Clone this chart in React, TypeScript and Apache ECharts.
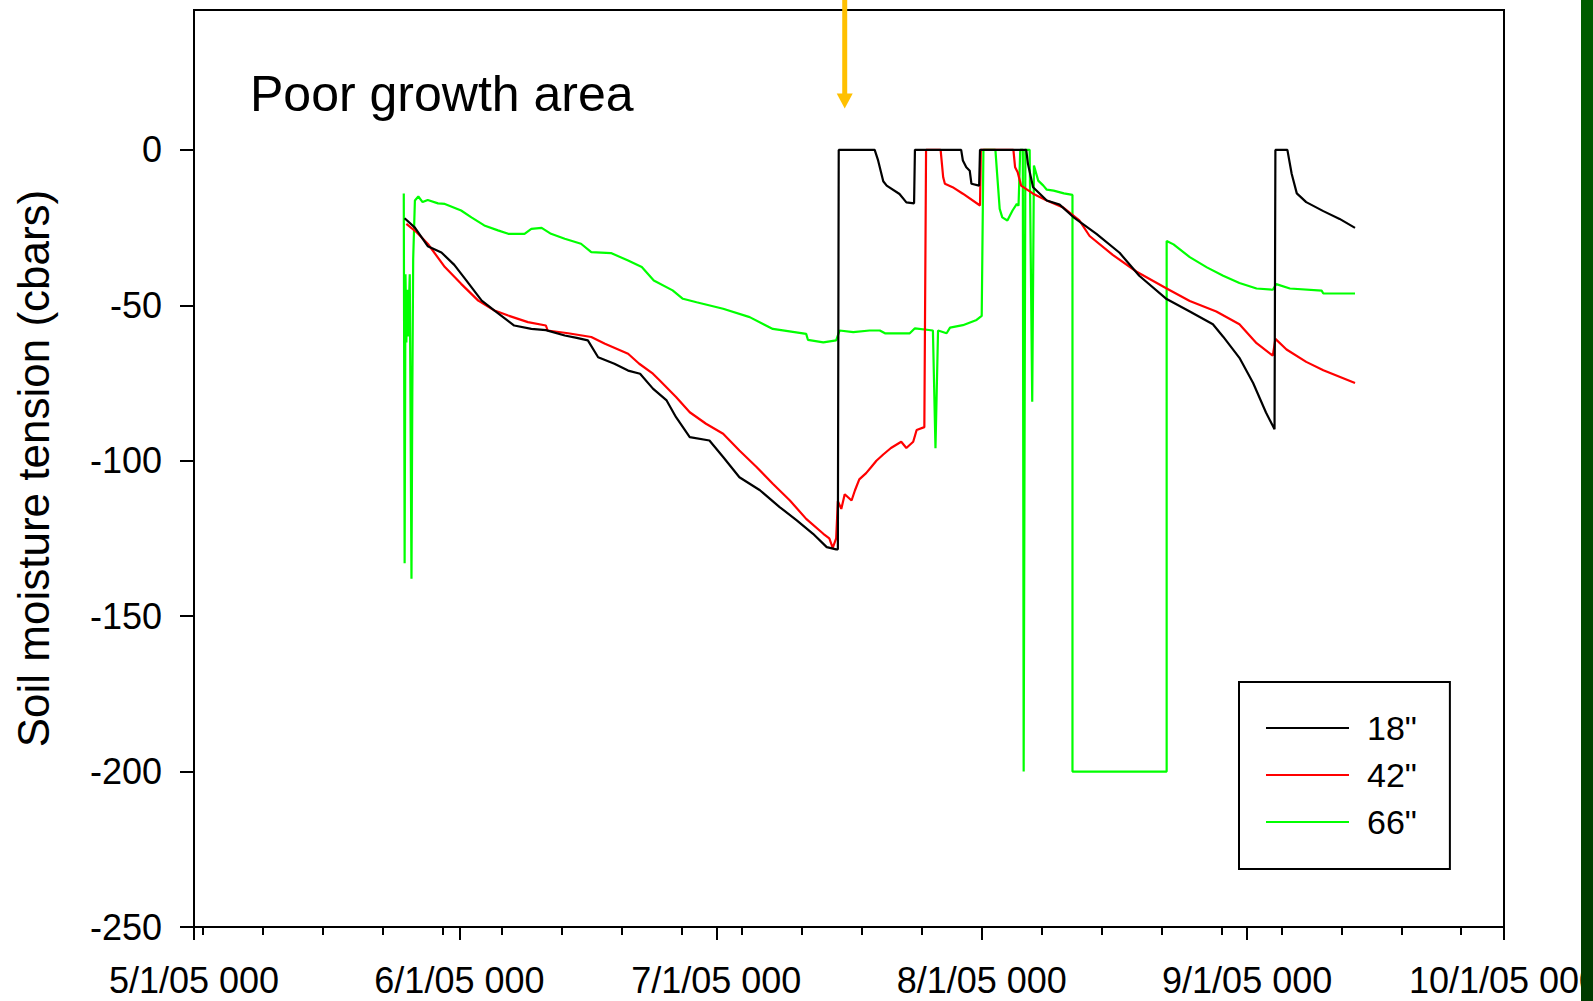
import React, { useEffect, useRef } from 'react';
import * as echarts from 'echarts';

const FONT = '"Liberation Sans", Arial, Helvetica, sans-serif';

// x values are days since 5/1/05 00:00
const MONTH_TICK_DAYS = [0, 31, 61, 92, 123, 153];
const MONTH_LABELS = ['5/1/05 000', '6/1/05 000', '7/1/05 000', '8/1/05 000', '9/1/05 000', '10/1/05 000'];
const WEEK_TICK_DAYS = [1, 8, 15, 22, 29, 36, 43, 50, 57, 64, 71, 78, 85, 92, 99, 106, 113, 120, 127, 134, 141, 148];
const Y_TICKS = [-250, -200, -150, -100, -50, 0];

const SERIES_NAMES = ['18"', '42"', '66"'];
const SERIES_COLORS = ['#000000', '#ff0000', '#00ff00'];

const depth18: [number, number][] = [
  [24.6, -22], [25.8, -25], [27.3, -31], [28.9, -33], [30.4, -37], [31.8, -42], [33.6, -48.5], [35.1, -51.7],
  [37.4, -56.5], [39.4, -57.6], [41.1, -58], [43.3, -59.7], [44.7, -60.5], [46.0, -61.3], [47.2, -66.7],
  [49.1, -68.8], [50.7, -71], [52.1, -72], [53.6, -76.8], [55.2, -80.6], [56.3, -86], [57.9, -92.4],
  [60.2, -93.5], [61.8, -98.8], [63.7, -105.3], [66.1, -109.5], [68.4, -114.9], [70.4, -119.2],
  [72.3, -123.5], [73.9, -127.8], [75.0, -128.5], [75.2, -128.5], [75.3, 0], [79.5, 0], [79.9, -3.4],
  [80.5, -10.1], [80.9, -11.5], [82.4, -14.2], [83.2, -16.9], [84.1, -17.2], [84.2, 0], [89.6, 0],
  [89.8, -3.4], [90.2, -5.6], [90.6, -6.7], [90.8, -10.9], [91.7, -11.5], [91.8, 0], [97.2, 0],
  [97.4, -4.5], [98.0, -12], [99.6, -16.3], [101.1, -17.6], [102.7, -21.6], [105.4, -27], [108.1, -33.1],
  [110.4, -40.5], [113.6, -48], [116.3, -52], [119.0, -56.1], [120.2, -60.1], [122.1, -66.9],
  [123.7, -75], [125.2, -84.5], [126.2, -89.9], [126.3, 0], [127.7, 0], [128.2, -7.7], [128.8, -14],
  [129.9, -16.8], [131.9, -19.7], [133.8, -22.2], [135.6, -25.1],
];

const depth42: [number, number][] = [
  [24.8, -23.8], [26.0, -26.5], [27.3, -30.2], [29.3, -37.7], [31.2, -43.1], [33.2, -48.5], [35.1, -51.7],
  [36.7, -53.3], [39.0, -55.4], [41.1, -56.5], [41.3, -58.1], [43.7, -59], [46.4, -60.2], [48.0, -62.4],
  [50.7, -65.6], [52.0, -68.8], [53.6, -72], [54.4, -74.2], [56.3, -79.5], [57.9, -84.4], [59.8, -88.1],
  [61.8, -91.3], [63.7, -96.7], [65.7, -102], [67.6, -107.4], [69.6, -112.8], [71.5, -118.7],
  [73.5, -123.5], [74.2, -125], [74.6, -128], [75.0, -125], [75.2, -113], [75.6, -115.5], [76.0, -110.8],
  [76.8, -112.8], [77.2, -109.5], [77.7, -106], [78.5, -104], [79.1, -102], [79.7, -100], [80.5, -98],
  [81.4, -95.9], [82.6, -93.9], [83.2, -95.9], [84.0, -93.9], [84.4, -90.1], [85.3, -89.2], [85.5, 0],
  [87.2, 0], [87.5, -8.8], [87.7, -10.9], [88.6, -12], [89.8, -14.1], [91.8, -17.9], [91.9, 0], [95.7, 0],
  [95.9, -5.6], [96.2, -7.2], [96.6, -11.5], [98.0, -14.1], [99.6, -16.3], [101.5, -18.5], [103.4, -22.7],
  [104.6, -27.7], [107.3, -33.8], [110.1, -39.2], [113.6, -44.6], [116.3, -48.6], [119.4, -52],
  [122.1, -56.1], [124.1, -62.2], [126.0, -66.2], [126.3, -60.8], [127.6, -64.2], [129.9, -68.2],
  [131.9, -70.9], [135.6, -75],
];

const depth66: [number, number][] = [
  [24.5, -14], [24.6, -133], [24.7, -40], [24.8, -62], [24.9, -45], [25.0, -60], [25.2, -40], [25.4, -138],
  [25.5, -78], [25.6, -35], [25.8, -16.3], [26.2, -15], [26.7, -16.8], [27.3, -16.1], [28.5, -17.2],
  [29.3, -17.4], [31.2, -19.5], [32.4, -21.7], [33.9, -24.3], [35.5, -25.9], [36.7, -27], [38.6, -27],
  [39.4, -25.4], [40.6, -25.1], [41.7, -27], [43.3, -28.6], [45.2, -30.2], [46.4, -32.9], [48.7, -33.2],
  [50.7, -35.6], [52.3, -37.7], [53.7, -42], [55.9, -45.2], [57.1, -47.9], [58.7, -49], [61.8, -51.1],
  [64.9, -53.8], [67.6, -57.6], [71.5, -59.2], [71.7, -61.1], [73.5, -61.9], [75.0, -61.3], [75.4, -58.1],
  [77.0, -58.6], [78.9, -58.1], [80.1, -58.1], [80.7, -59], [83.6, -59], [84.2, -57.4], [86.3, -58.1],
  [86.6, -96], [86.9, -58.1], [87.9, -59], [88.3, -57.2], [89.8, -56.4], [91.4, -54.7], [92.0, -53.4],
  [92.2, 0], [93.6, 0], [93.8, -7.7], [94.1, -19], [94.4, -21.7], [95.0, -22.7], [95.6, -19.5],
  [96.1, -17.4], [96.3, -18], [96.5, 0], [96.8, 0], [96.9, -200], [97.1, 0], [97.6, 0], [97.9, -81],
  [98.1, -5], [98.6, -9.9], [99.2, -11.5], [99.6, -12.8], [100.4, -13.1], [101.6, -14], [102.6, -14.5],
  [102.6, -200], [113.6, -200], [113.6, -29.3], [114.4, -30.4], [116.3, -34.5], [118.3, -37.8],
  [120.2, -40.5], [122.1, -42.8], [124.1, -44.6], [126.0, -45], [126.4, -43.2], [128.0, -44.6],
  [131.7, -45.3], [131.9, -46.2], [135.6, -46.2],
];

const SERIES_DATA = [depth18, depth42, depth66];

const TITLE_TEXT = 'Poor growth area';
const Y_NAME = 'Soil moisture tension (cbars)';
const ARROW_DAY = 76;
const ARROW_TIP_VALUE = 13.3;

export default function App() {
  const ref = useRef<HTMLDivElement>(null);

  useEffect(() => {
    if (!ref.current) return;
    const chart = echarts.init(ref.current, null, { renderer: 'svg' });
    const black = '#000';

    const series = [2, 1, 0].map((i) => ({
      name: SERIES_NAMES[i],
      type: 'line',
      data: SERIES_DATA[i],
      xAxisIndex: 0,
      yAxisIndex: 0,
      showSymbol: false,
      symbol: 'none',
      lineStyle: { width: 2.2, color: SERIES_COLORS[i] },
      itemStyle: { color: SERIES_COLORS[i] },
      clip: true,
    }));

    chart.setOption({
      animation: false,
      backgroundColor: '#ffffff',
      title: {
        text: TITLE_TEXT,
        left: 250,
        top: 69,
        padding: 0,
        textStyle: { fontSize: 50, fontWeight: 'normal', fontFamily: FONT, color: black },
      },
      legend: {
        orient: 'vertical',
        left: 1239,
        top: 682,
        padding: [26, 33, 27, 26],
        borderColor: black,
        borderWidth: 2,
        backgroundColor: '#fff',
        itemWidth: 83,
        itemHeight: 2,
        itemGap: 7,
        data: SERIES_NAMES,
        lineStyle: { width: 2 },
        textStyle: { fontSize: 34, fontFamily: FONT, color: black, lineHeight: 40, padding: [0, 0, 0, 13] },
      },
      grid: {
        left: 194,
        top: 10,
        width: 1310,
        height: 917,
        show: true,
        borderColor: black,
        borderWidth: 2,
        backgroundColor: 'transparent',
        containLabel: false,
        outerBoundsMode: 'none',
      },
      xAxis: [
        {
          type: 'value',
          min: 0,
          max: 153,
          position: 'bottom',
          axisLine: { show: true, onZero: false, lineStyle: { color: black, width: 2 } },
          axisTick: { show: true, length: 13, customValues: MONTH_TICK_DAYS, lineStyle: { color: black, width: 2 } },
          axisLabel: {
            customValues: MONTH_TICK_DAYS,
            formatter: (v: number) => {
              const k = MONTH_TICK_DAYS.indexOf(Math.round(v));
              return k >= 0 ? MONTH_LABELS[k] : '';
            },
            fontSize: 36,
            fontFamily: FONT,
            color: black,
            margin: 35,
            hideOverlap: false,
          },
          splitLine: { show: false },
        },
        {
          type: 'value',
          min: 0,
          max: 153,
          position: 'bottom',
          offset: 0,
          axisLine: { show: false, onZero: false },
          axisTick: { show: true, length: 8, customValues: WEEK_TICK_DAYS, lineStyle: { color: black, width: 2 } },
          axisLabel: { show: false },
          splitLine: { show: false },
        },
      ],
      yAxis: {
        type: 'value',
        min: -250,
        max: 45,
        axisLine: { show: true, onZero: false, lineStyle: { color: black, width: 2 } },
        axisTick: { show: true, length: 14, customValues: Y_TICKS, lineStyle: { color: black, width: 2 } },
        axisLabel: { customValues: Y_TICKS, fontSize: 36, fontFamily: FONT, color: black, margin: 32 },
        splitLine: { show: false },
        name: Y_NAME,
        nameLocation: 'middle',
        nameRotate: 90,
        nameGap: 139,
        nameTextStyle: { fontSize: 44, fontFamily: FONT, color: black },
      },
      series,
    });

    const ax = chart.convertToPixel({ xAxisIndex: 0 }, ARROW_DAY) as number;
    const ay = chart.convertToPixel({ yAxisIndex: 0 }, ARROW_TIP_VALUE) as number;

    chart.setOption({
      graphic: [
        {
          type: 'line',
          z: 100,
          shape: { x1: ax, y1: 0, x2: ax, y2: ay - 12 },
          style: { stroke: '#ffc000', lineWidth: 5 },
        },
        {
          type: 'polygon',
          z: 100,
          shape: { points: [[ax - 8, ay - 15], [ax + 8, ay - 15], [ax, ay]] },
          style: { fill: '#ffc000' },
        },
        {
          type: 'rect',
          z: 100,
          shape: { x: 1581, y: 0, width: 12, height: 1001 },
          style: {
            fill: new echarts.graphic.LinearGradient(0, 0, 0, 1, [
              { offset: 0, color: '#005c00' },
              { offset: 1, color: '#003a00' },
            ]),
          },
        },
      ],
    });

    return () => chart.dispose();
  }, []);

  return (
    <div
      ref={ref}
      style={{ position: 'fixed', left: 0, top: 0, width: 1593, height: 1001, background: '#fff' }}
    />
  );
}
